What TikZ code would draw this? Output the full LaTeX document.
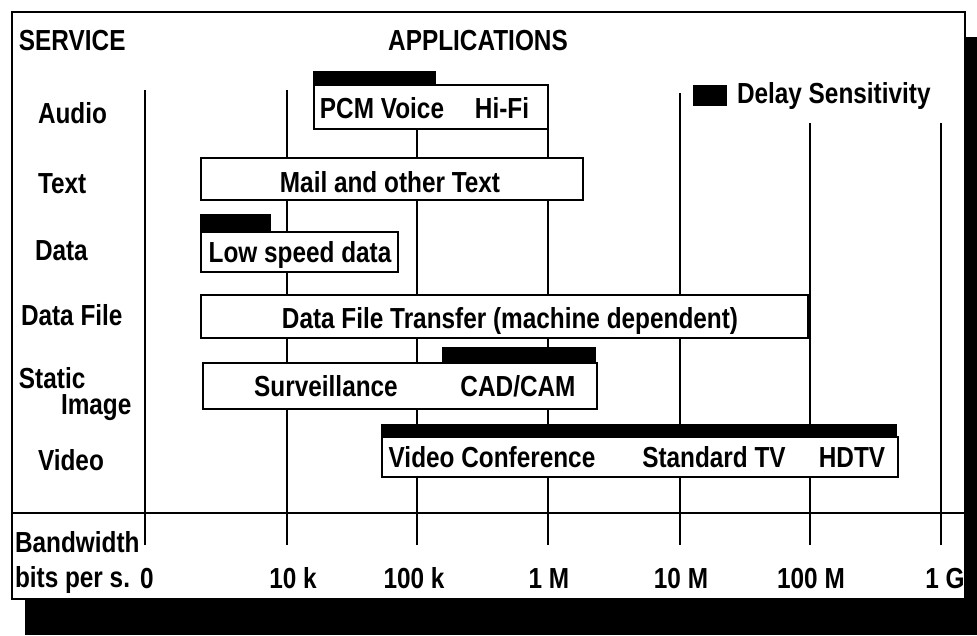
\documentclass[tikz,border=0pt]{standalone}
\usepackage{fontspec}
\setmainfont{Liberation Sans}[FakeStretch=0.84]
\begin{document}
\begin{tikzpicture}[x=1pt,y=-1pt,line width=2pt,
    txt/.style={font=\fontsize{29}{32}\selectfont\bfseries,inner sep=0pt},
    appbox/.style={draw,fill=white,inner sep=0pt},
    delaybar/.style={fill=black,draw=none}]
\useasboundingbox (0,0) rectangle (977,635);
% frame and shadow
\fill (25,37) rectangle (977,635);
\draw[fill=white] (12,12) rectangle (965,599);
\draw (12,513)--(965,513);
% scale lines
\foreach \x in {145,287,417,548} \draw (\x,90)--(\x,545);
\draw (680,93)--(680,545);
\foreach \x in {810,941} \draw (\x,123)--(\x,545);
% headings
\node[txt,anchor=base west] (service) at (18,50) {SERVICE};
\node[txt,anchor=base] (apps) at (478,50) {APPLICATIONS};
\fill (693,85) rectangle (727,106);
\node[txt,anchor=base west] (legend) at (736,103) {Delay Sensitivity};
% services
\node[txt,anchor=base west] (audio) at (37,123) {Audio};
\node[txt,anchor=base west] (text) at (37,193) {Text};
\node[txt,anchor=base west] (data) at (34,260) {Data};
\node[txt,anchor=base west] (datafile) at (20,325) {Data File};
\node[txt,anchor=base west] (static) at (18,388) {Static};
\node[txt,anchor=base west] (image) at (60,414) {Image};
\node[txt,anchor=base west] (video) at (37,470) {Video};
% application boxes
\node[appbox,minimum width=234pt,minimum height=44pt] (audiobox) at (431,107) {};
\node[appbox,minimum width=382pt,minimum height=42pt] (textbox) at (392,179) {};
\node[appbox,minimum width=197pt,minimum height=40pt] (databox) at (299.5,252) {};
\node[appbox,minimum width=607pt,minimum height=43pt] (filebox) at (504.5,316.5) {};
\node[appbox,minimum width=394pt,minimum height=46pt] (imagebox) at (400,386) {};
\node[appbox,minimum width=516pt,minimum height=40pt] (videobox) at (640,457) {};
% delay sensitivity
\fill[delaybar] (audiobox.north west) rectangle ++(123,-13);
\fill[delaybar] (databox.north west) rectangle ++(71,-17);
\fill[delaybar] (imagebox.north west) ++(240,0) rectangle ++(154,-15);
\fill[delaybar] (videobox.north west) rectangle ++(516,-12);
% applications
\node[txt,anchor=base] (pcm) at (382,118) {PCM Voice};
\node[txt,anchor=base] (hifi) at (502,118) {Hi-Fi};
\node[txt,anchor=base] (mail) at (390,192) {Mail and other Text};
\node[txt,anchor=base] (lowspeed) at (300,262) {Low speed data};
\node[txt,anchor=base] (transfer) at (510,328) {Data File Transfer (machine dependent)};
\node[txt,anchor=base] (surv) at (326,396) {Surveillance};
\node[txt,anchor=base] (cad) at (518,396) {CAD/CAM};
\node[txt,anchor=base] (vconf) at (492,467) {Video Conference};
\node[txt,anchor=base] (stdtv) at (714,467) {Standard TV};
\node[txt,anchor=base] (hdtv) at (852,467) {HDTV};
% bandwidth axis
\node[txt,anchor=base west] (bw) at (14,552) {Bandwidth};
\node[txt,anchor=base west] (bps) at (14,587) {bits per s.};
\node[txt,anchor=base] (t0) at (147,588) {0};
\node[txt,anchor=base] (t1) at (293,588) {10 k};
\node[txt,anchor=base] (t2) at (414,588) {100 k};
\node[txt,anchor=base] (t3) at (549,588) {1 M};
\node[txt,anchor=base] (t4) at (681,588) {10 M};
\node[txt,anchor=base] (t5) at (811,588) {100 M};
\node[txt,anchor=base] (t6) at (945,588) {1 G};
\end{tikzpicture}
\end{document}
